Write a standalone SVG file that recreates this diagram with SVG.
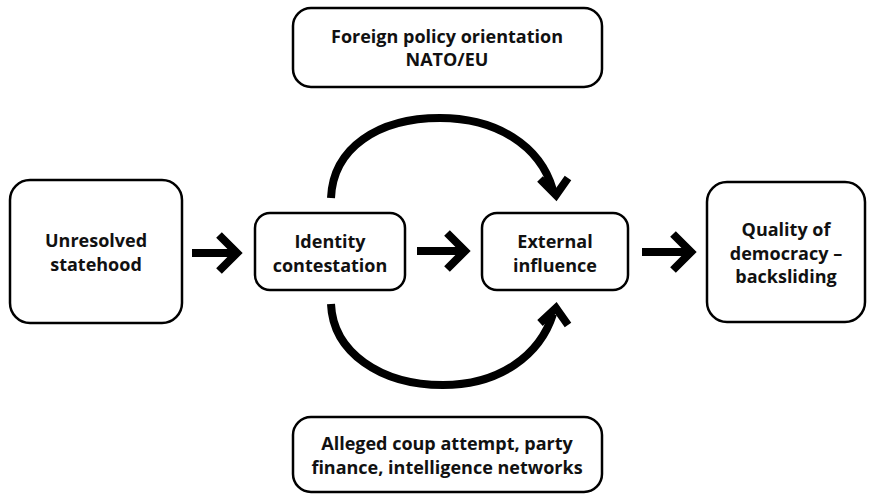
<svg xmlns="http://www.w3.org/2000/svg" width="877" height="494" viewBox="0 0 877 494">
<style>
.box{fill:#fff;stroke:#000;stroke-width:2.5}
.t{font-family:"Open Sans","Liberation Sans",sans-serif;font-weight:bold;font-size:18px;fill:#111;text-anchor:middle}
.c{fill:none;stroke:#000;stroke-width:8;stroke-linejoin:miter;stroke-miterlimit:10}
</style>
<rect width="877" height="494" fill="#fff"/>
<g id="connectors">
<path class="c" d="M192,253 H236 M219,235 L237,253 L219,271"/>
<path class="c" d="M417,251 H464 M447,233 L465,251 L447,269"/>
<path class="c" d="M642,252 H690 M673,234 L691,252 L673,270"/>
<path class="c" d="M331,198 C333,148 378,118 440,118 C496,118 540,145 553,190"/>
<path class="c" d="M540,179 L556,195 L568,178"/>
<path class="c" d="M331,304 C333,352 380,385 443,385 C500,385 540,355 553,314"/>
<path class="c" d="M540,323 L556,308 L568,325"/>
</g>
<g id="unresolved">
<rect class="box" x="10" y="180" width="172" height="143" rx="20"/>
<text class="t" x="96" y="247">Unresolved</text>
<text class="t" x="96" y="271">statehood</text>
</g>
<g id="identity">
<rect class="box" x="255" y="213" width="150" height="77" rx="15"/>
<text class="t" x="330" y="248">Identity</text>
<text class="t" x="330" y="272">contestation</text>
</g>
<g id="external">
<rect class="box" x="482" y="213" width="146" height="77" rx="15"/>
<text class="t" x="555" y="248">External</text>
<text class="t" x="555" y="272">influence</text>
</g>
<g id="democracy">
<rect class="box" x="707" y="182" width="158" height="140" rx="20"/>
<text class="t" x="786" y="236">Quality of</text>
<text class="t" x="786" y="260">democracy –</text>
<text class="t" x="786" y="283">backsliding</text>
</g>
<g id="foreign">
<rect class="box" x="293" y="8" width="309" height="79" rx="18"/>
<text class="t" x="447" y="43">Foreign policy orientation</text>
<text class="t" x="447" y="66">NATO/EU</text>
</g>
<g id="coup">
<rect class="box" x="293" y="417" width="309" height="75" rx="18"/>
<text class="t" x="447" y="450">Alleged coup attempt, party</text>
<text class="t" x="447" y="474">finance, intelligence networks</text>
</g>
</svg>
